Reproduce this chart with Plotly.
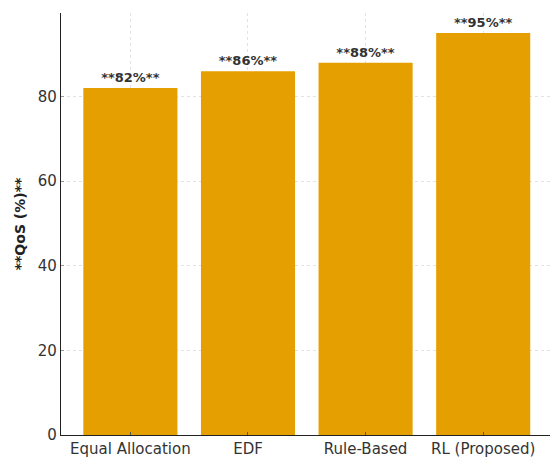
import plotly.graph_objects as go

# QoS comparison of scheduling strategies
methods = ["Equal Allocation", "EDF", "Rule-Based", "RL (Proposed)"]
qos_values = [82, 86, 88, 95]
y_ticks = [0, 20, 40, 60, 80]

bar_color = "#E69F00"
text_color = "#333333"
font_family = "DejaVu Sans, Arial, sans-serif"

labels = [f"<b>**{v}%**</b>" for v in qos_values]

fig = go.Figure(
    go.Bar(
        x=list(range(len(methods))),
        y=qos_values,
        marker=dict(color=bar_color, line=dict(width=0)),
        text=labels,
        textposition="outside",
        cliponaxis=False,
        textfont=dict(family=font_family, size=13, color=text_color),
        width=0.8,
    )
)

fig.update_layout(
    width=550,
    height=458,
    margin=dict(l=61, r=0, t=13, b=23),
    paper_bgcolor="white",
    plot_bgcolor="white",
    showlegend=False,
    font=dict(family=font_family, color=text_color),
)

fig.update_xaxes(
    range=[-0.59, 3.568],
    tickmode="array",
    tickvals=list(range(len(methods))),
    ticktext=methods,
    tickfont=dict(size=15, color=text_color),
    showline=True,
    linecolor="#222222",
    linewidth=1.2,
    ticks="inside",
    ticklen=3,
    tickcolor="#555555",
    showgrid=True,
    gridcolor="#e2e2e2",
    griddash="dot",
    gridwidth=0.8,
    zeroline=False,
)

fig.update_yaxes(
    range=[0, 99.75],
    tickmode="array",
    tickvals=y_ticks,
    tickfont=dict(size=15, color=text_color),
    showline=True,
    linecolor="#222222",
    linewidth=1.2,
    ticks="inside",
    ticklen=3,
    tickcolor="#999999",
    showgrid=True,
    gridcolor="#e2e2e2",
    griddash="dot",
    gridwidth=0.8,
    zeroline=False,
    title=dict(
        text="<b>**QoS (%)**</b>",
        font=dict(size=14, color="#222222"),
        standoff=8,
    ),
)

fig.write_html("out.html")
